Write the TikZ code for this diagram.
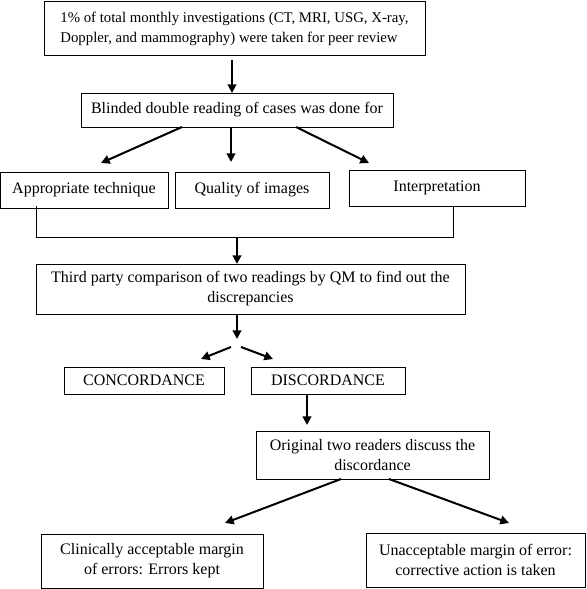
\documentclass[tikz,border=0pt]{standalone}
\usepackage{fontspec}
\setmainfont{Liberation Serif}
\usetikzlibrary{arrows.meta}
\begin{document}
\begin{tikzpicture}[x=0.75pt,y=-0.75pt,
  box/.style={draw, line width=0.75pt, inner sep=0pt, align=center, font=\fontsize{12}{15}\selectfont},
  bw/.style={minimum width=#1*0.75pt},
  bh/.style={minimum height=#1*0.75pt},
  arr/.style={line width=1.5pt, -{Triangle[length=6.5pt,width=6.5pt]}},
  ln/.style={line width=0.75pt}]
\useasboundingbox (0,0) rectangle (586,589);
\node[box, align=left, bw=381, bh=54, font=\fontsize{11.1}{15}\selectfont] (b1) at (234.5,28.5)
  {1\% of total monthly investigations (CT, MRI, USG, X-ray,\\Doppler, and mammography) were taken for peer review};
\node[box, bw=312, bh=34] (b2) at (237,110) {Blinded double reading of cases was done for};
\node[box, bw=168, bh=36] (t1) at (84,190) {Appropriate technique};
\node[box, bw=154, bh=36] (t2) at (252,190) {Quality of images};
\node[box, bw=176, bh=36] (t3) at (437,188) {\raisebox{3pt}{Interpretation}};
\node[box, bw=429, bh=50] (b4) at (250.5,289)
  {Third party comparison of two readings by QM to find out the\\discrepancies};
\node[box, bw=160, bh=27] (cc) at (144,380.5) {CONCORDANCE};
\node[box, bw=154, bh=27] (dc) at (328,380.5) {DISCORDANCE};
\node[box, bw=233, bh=48] (og) at (372.5,455) {Original two readers discuss the\\discordance};
\node[box, bw=222, bh=54] (ok) at (152,561) {Clinically acceptable margin\\of errors: Errors kept};
\node[box, bw=219, bh=54] (bad) at (475.5,560) {Unacceptable margin of error:\\corrective action is taken};
% coordinates
\coordinate (a1s) at (232,60);
\coordinate (a1e) at (232,93);
\coordinate (l1s) at (182,127);
\coordinate (l1e) at (101,163);
\coordinate (m1s) at (231,127);
\coordinate (m1e) at (231,162);
\coordinate (r1s) at (296,127);
\coordinate (r1e) at (369,163);
\coordinate (j1) at (36,206);
\coordinate (j2) at (36,237);
\coordinate (j3) at (453,237);
\coordinate (j4) at (453,206);
\coordinate (jm) at (237,237);
\coordinate (jme) at (237,264);
\coordinate (a4s) at (237,314);
\coordinate (a4e) at (237,339);
\coordinate (sl) at (231,347);
\coordinate (sle) at (201,359);
\coordinate (sr) at (241,347);
\coordinate (sre) at (273,359);
\coordinate (d1) at (307,394);
\coordinate (d1e) at (307,425);
\coordinate (ol) at (341,479);
\coordinate (ole) at (225,523);
\coordinate (or) at (389,479);
\coordinate (ore) at (509,523);
\draw[arr] (a1s) -- (a1e);
\draw[arr] (l1s) -- (l1e);
\draw[arr] (m1s) -- (m1e);
\draw[arr] (r1s) -- (r1e);
\draw[ln] (j1) -- (j2) -- (j3) -- (j4);
\draw[arr] (jm) -- (jme);
\draw[arr] (a4s) -- (a4e);
\draw[arr] (sl) -- (sle);
\draw[arr] (sr) -- (sre);
\draw[arr] (d1) -- (d1e);
\draw[arr] (ol) -- (ole);
\draw[arr] (or) -- (ore);
\end{tikzpicture}
\end{document}
